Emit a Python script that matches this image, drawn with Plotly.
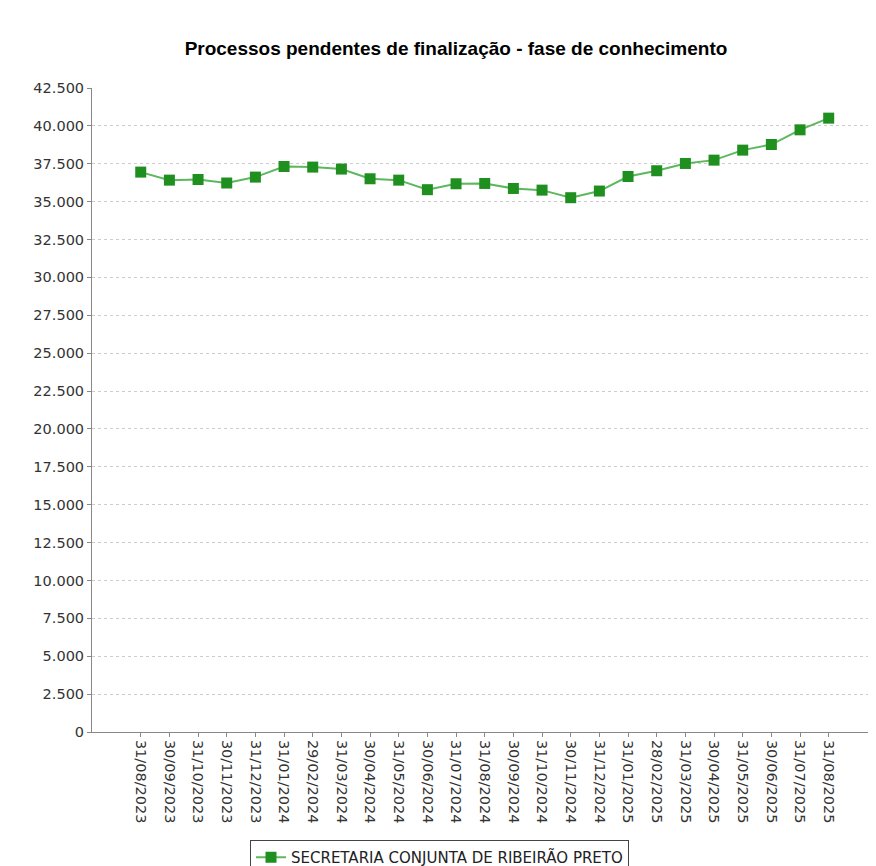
import plotly.graph_objects as go

dates = ["31/08/2023", "30/09/2023", "31/10/2023", "30/11/2023", "31/12/2023",
         "31/01/2024", "29/02/2024", "31/03/2024", "30/04/2024", "31/05/2024",
         "30/06/2024", "31/07/2024", "31/08/2024", "30/09/2024", "31/10/2024",
         "30/11/2024", "31/12/2024", "31/01/2025", "28/02/2025", "31/03/2025",
         "30/04/2025", "31/05/2025", "30/06/2025", "31/07/2025", "31/08/2025"]
values = [36950, 36420, 36460, 36230, 36620,
          37320, 37280, 37150, 36510, 36420,
          35790, 36180, 36200, 35870, 35760,
          35260, 35700, 36660, 37040, 37520,
          37740, 38400, 38770, 39740, 40510]
series_name = "SECRETARIA CONJUNTA DE RIBEIRÃO PRETO"
y_ticks = list(range(0, 42501, 2500))

idx = list(range(len(dates)))

W, H = 868, 858

fig = go.Figure()
fig.add_trace(go.Scatter(
    x=idx, y=values, mode="lines+markers", name=series_name,
    line=dict(color="#5cb85c", width=2),
    marker=dict(symbol="square", size=11, color="#1f8f1f",
                line=dict(width=0)),
    showlegend=True,
))

fig.update_layout(
    width=W, height=H,
    margin=dict(l=84, r=0, t=80, b=134, autoexpand=False),
    paper_bgcolor="white", plot_bgcolor="white",
    separators=",.",
    title=dict(text="<b>Processos pendentes de finalização - fase de conhecimento</b>",
               x=448 / W, xanchor="center", y=1 - 40 / H, yanchor="middle",
               font=dict(family="Liberation Sans, Arial, sans-serif", size=19, color="black")),
    font=dict(family="DejaVu Sans, sans-serif", size=14.5, color="#333333"),
    showlegend=True,
    legend=dict(orientation="h", x=(250 - 92) / 784, xanchor="left",
                y=(732 - 840) / 644, yanchor="top",
                bordercolor="#444444", borderwidth=1, bgcolor="white",
                font=dict(family="DejaVu Sans, sans-serif", size=15, color="#222222"),
                itemwidth=30),
)

fig.update_xaxes(
    range=[-1.7, 25.65], automargin=False,
    tickvals=idx, ticktext=dates, tickangle=90,
    showgrid=False, zeroline=False,
    showline=True, linecolor="#888888", linewidth=1,
    ticks="outside", ticklen=4, tickcolor="#888888",
    tickfont=dict(family="DejaVu Sans, sans-serif", size=14.5, color="#333333"),
)
fig.update_yaxes(
    range=[0, 42500], tickvals=y_ticks, tickformat=",d", automargin=False,
    showgrid=True, gridcolor="#cccccc", griddash="dot", gridwidth=1,
    zeroline=False,
    showline=True, linecolor="#888888", linewidth=1,
    ticks="outside", ticklen=4, tickcolor="#888888",
    tickfont=dict(family="DejaVu Sans, sans-serif", size=14.5, color="#333333"),
)

fig.write_html("out.html")
